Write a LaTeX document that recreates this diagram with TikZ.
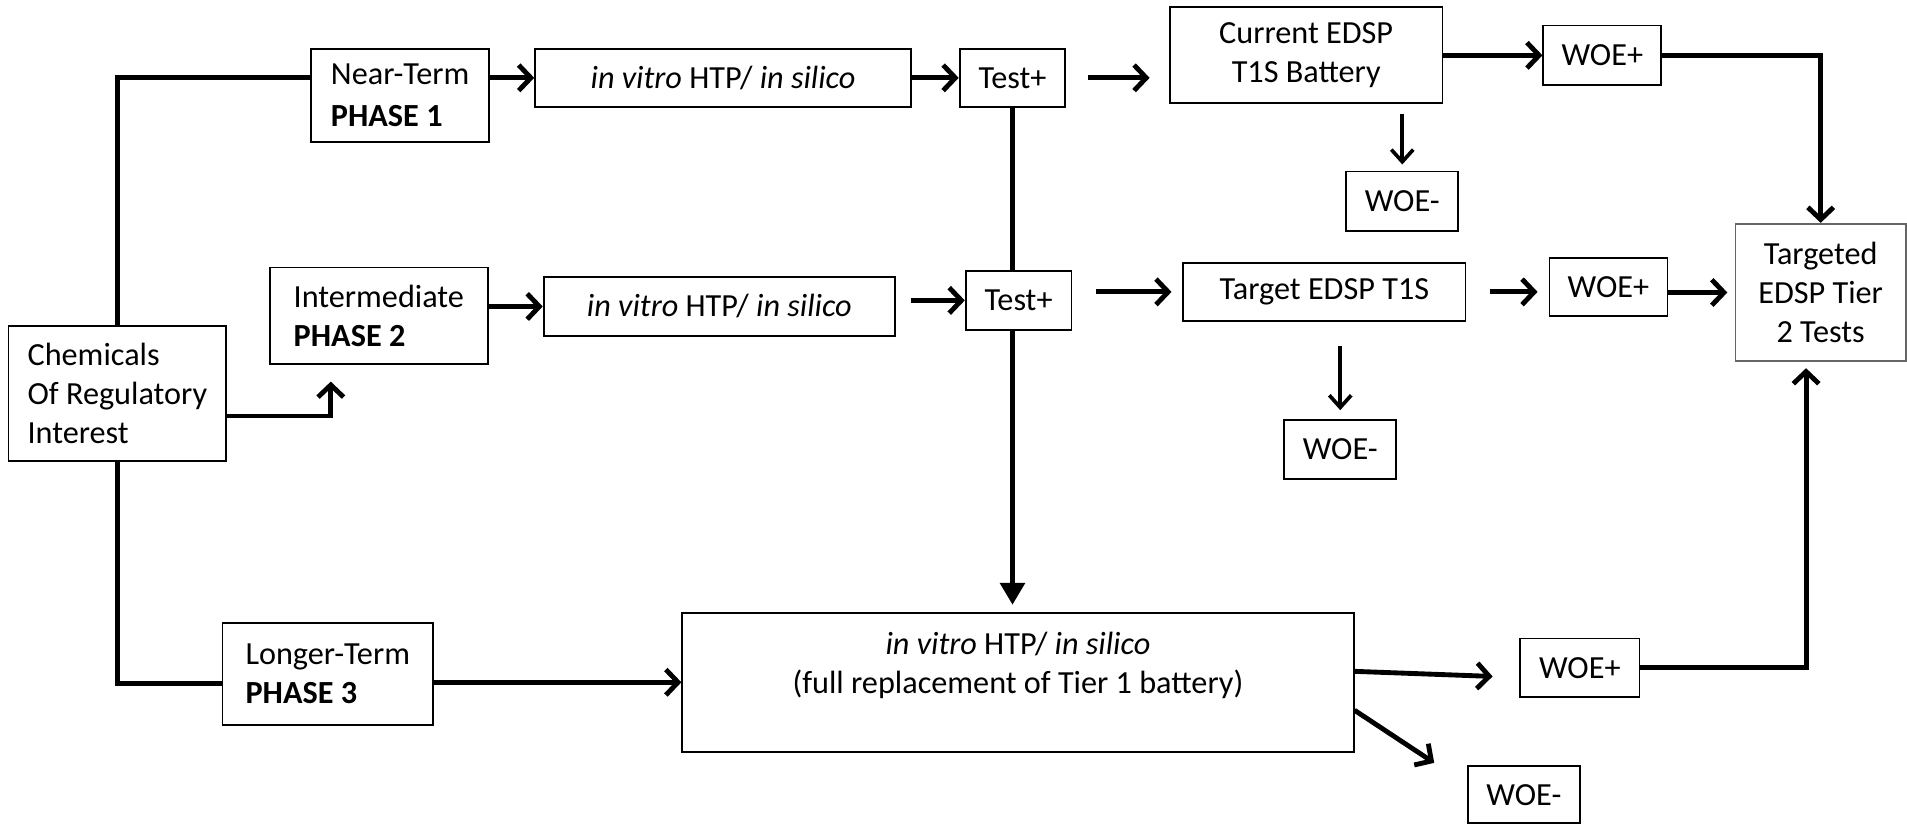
\documentclass[tikz,border=0pt]{standalone}
\usepackage{fontspec}
\setmainfont{Carlito}
\usetikzlibrary{arrows.meta}

\tikzset{
  box/.style={draw, line width=1.5pt, fill=white, inner sep=0pt, align=center},
  lbox/.style={box, align=left},
  link/.style={line width=4pt, -{Straight Barb[length=10pt,width=21pt]}},
  thinlink/.style={line width=3pt, -{Straight Barb[length=10pt,width=18pt]}},
  plain/.style={line width=4pt}
}

\begin{document}
\begin{tikzpicture}[x=1pt, y=-1pt, font=\fontsize{26.5}{32}\selectfont]
    \useasboundingbox (0,0) rectangle (1568,677);

    \node[lbox, minimum width=179pt, minimum height=111pt] at (96.5, 323.5)(chem) {Chemicals\\Of Regulatory\\Interest};
    \node[lbox, minimum width=146pt, minimum height=77pt] at (329, 78.5)(near) {Near-Term\\[3pt]\textbf{PHASE 1}};
    \node[lbox, minimum width=179pt, minimum height=79pt] at (311.5, 259.5)(inter) {Intermediate\\\textbf{PHASE 2}};
    \node[lbox, minimum width=173pt, minimum height=84pt] at (269.5, 554)(longer) {Longer-Term\\\textbf{PHASE 3}};

    \node[box, minimum width=309pt, minimum height=48pt] at (594.5, 64)(vitroA) {\textit{in vitro} HTP/ \textit{in silico}};
    \node[box, minimum width=289pt, minimum height=48pt] at (591.5, 252)(vitroB) {\textit{in vitro} HTP/ \textit{in silico}};
    \node[box, minimum width=87pt, minimum height=48pt] at (832.5, 64)(testA) {Test+};
    \node[box, minimum width=87pt, minimum height=48pt] at (837.5, 247)(testB) {Test+};

    \node[box, minimum width=224pt, minimum height=79pt] at (1074, 45.5)(current) {Current EDSP\\T1S Battery};
    \node[box, minimum width=232pt, minimum height=48pt] at (1089, 240)(target) {Target EDSP T1S};
    \node[box, minimum width=97pt, minimum height=49pt] at (1317.5, 45.5)(woepA) {WOE+};
    \node[box, minimum width=92pt, minimum height=49pt] at (1153, 165.5)(woemA) {WOE-};
    \node[box, minimum width=97pt, minimum height=48pt] at (1322.5, 236)(woepB) {WOE+};
    \node[box, minimum width=92pt, minimum height=49pt] at (1102, 369.5)(woemB) {WOE-};
    \node[box, draw=black!60, minimum width=140pt, minimum height=113pt] at (1497, 240.5)(tier2) {Targeted\\EDSP Tier\\2 Tests};

    \node[box, minimum width=552pt, minimum height=114pt] at (837, 561)(full) {\textit{in vitro} HTP/ \textit{in silico}\\(full replacement of Tier 1 battery)\\~};
    \node[box, minimum width=98pt, minimum height=48pt] at (1299, 549)(woepC) {WOE+};
    \node[box, minimum width=92pt, minimum height=47pt] at (1253, 653.5)(woemC) {WOE-};

    \draw[plain] (chem.north) |- (near.west |- vitroA);
    \draw[link] (near.east |- vitroA) -- (vitroA.west);
    \draw[link] (vitroA.east) -- (testA.west);
    \draw[link, shorten <=18pt, shorten >=16pt] (testA.east) -- (current.west |- testA);
    \draw[link] (current.east) -- (woepA.west);
    \draw[link] (woepA.east) -| (tier2.north);
    \draw[thinlink, shorten <=8pt, shorten >=5pt] (woemA.north |- current.south) -- (woemA.north);

    \draw[link, shorten >=14pt] ([yshift=-18.5pt]chem.east) -| ([xshift=-39.5pt]inter.south);
    \draw[link] (inter.east |- vitroB) -- (vitroB.west);
    \draw[link, shorten <=12pt] (vitroB.east |- testB) -- (testB.west);
    \draw[link, shorten <=19pt, shorten >=9pt] (testB.east |- target) -- (target.west);
    \draw[link, shorten <=19pt, shorten >=9pt] (target.east) -- (woepB.west |- target);
    \draw[link, shorten >=6pt] (woepB.east |- tier2) -- (tier2.west);
    \draw[thinlink, shorten <=20pt, shorten >=7pt] (woemB.north |- target.south) -- (woemB.north);

    \draw[plain] (chem.south) |- ([yshift=-8pt]longer.west);
    \draw[link] (longer.east |- full) -- (full.west);
    \draw[plain] (testA.south) -- (testA.south |- testB.north);
    \draw[plain, -{Triangle[length=18pt,width=20pt]}, shorten >=6pt] (testA.south |- testB.south) -- (testA.south |- full.north);
    \draw[link, shorten >=22pt] ([yshift=9pt]full.east) -- ([yshift=-8pt]woepC.west);
    \draw[link] ([yshift=-23pt]full.east) -- ([xshift=-27pt,yshift=2pt]woemC.north west);
    \draw[link, shorten >=5pt] (woepC.east) -| ([xshift=-12pt]tier2.south);

\end{tikzpicture}
\end{document}
